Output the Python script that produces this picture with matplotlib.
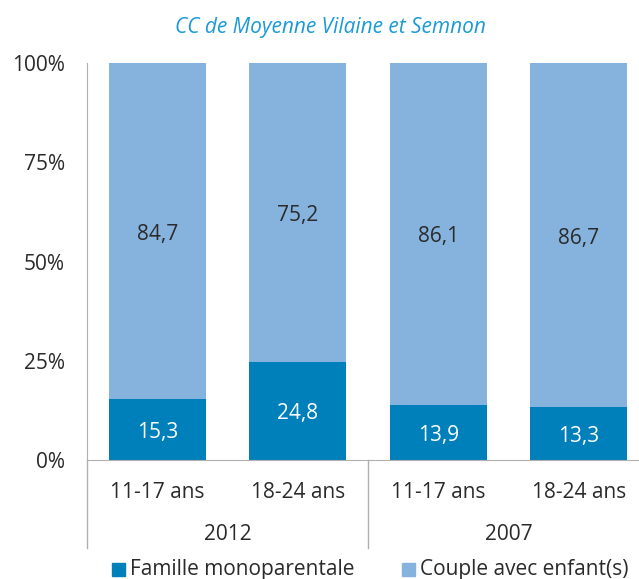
import numpy as np
import matplotlib.pyplot as plt
import matplotlib.transforms as mtransforms
from matplotlib.patches import Rectangle

plt.rcParams['font.family'] = ['Open Sans', 'DejaVu Sans']

# Données
annees = ["2012", "2007"]
ages = ["11-17 ans", "18-24 ans", "11-17 ans", "18-24 ans"]
monoparentale = [15.3, 24.8, 13.9, 13.3]
couple = [84.7, 75.2, 86.1, 86.7]
yticks = [0, 25, 50, 75, 100]

bleu_fonce = "#0080bb"
bleu_clair = "#86b3dd"
gris = "#b0b0b0"
texte = "#2a2a2a"

fig = plt.figure(figsize=(6.39, 5.79), dpi=100)
ax = fig.add_axes([87 / 639, 1 - 460 / 579, 562 / 639, 397 / 579])

x = np.arange(len(ages))
largeur = 0.69
ax.bar(x, monoparentale, largeur, color=bleu_fonce, zorder=2)
ax.bar(x, couple, largeur, bottom=monoparentale, color=bleu_clair, zorder=2)

# étiquettes des valeurs (légèrement abaissées)
decal = mtransforms.offset_copy(ax.transData, fig=fig, x=0, y=-3, units="dots")
for i in range(len(x)):
    ax.text(x[i], monoparentale[i] / 2, f"{monoparentale[i]:.1f}".replace(".", ","),
            ha="center", va="center", color="white", fontsize=15, transform=decal)
    ax.text(x[i], monoparentale[i] + couple[i] / 2, f"{couple[i]:.1f}".replace(".", ","),
            ha="center", va="center", color=texte, fontsize=15, transform=decal)

ax.set_xlim(-0.5, len(x) - 0.5)
ax.set_ylim(0, 100)
ax.set_yticks(yticks)
ax.set_yticklabels([f"{v}%" for v in yticks], fontsize=15, color=texte)
ax.tick_params(axis="y", length=0, pad=16)
ax.set_xticks([])
for s in ["top", "right"]:
    ax.spines[s].set_visible(False)
ax.spines["left"].set_color(gris)
ax.spines["bottom"].set_color(gris)

# axe des catégories à deux niveaux
trans = mtransforms.blended_transform_factory(ax.transData, fig.transFigure)
for i, a in enumerate(ages):
    ax.text(x[i], 1 - 492 / 579, a, transform=trans, ha="center", va="center",
            fontsize=15, color=texte)
for j, an in enumerate(annees):
    ax.text(2 * j + 0.5, 1 - 535 / 579, an, transform=trans, ha="center", va="center",
            fontsize=15, color=texte)
for xs in [-0.5, 1.5]:
    ax.plot([xs, xs], [1 - 460 / 579, 1 - 548 / 579], transform=trans, color=gris,
            lw=1, clip_on=False)

# titre
fig.text(330 / 639, 1 - 28 / 579, "CC de Moyenne Vilaine et Semnon", ha="center", va="center",
         fontsize=15, style="italic", color="#1a9ad6")

# légende
for px, lab, c in [(112, "Famille monoparentale", bleu_fonce), (402, "Couple avec enfant(s)", bleu_clair)]:
    fig.patches.append(Rectangle((px / 639, 1 - 576 / 579), 13 / 639, 13 / 579,
                                 transform=fig.transFigure, color=c))
    fig.text((px + 18) / 639, 1 - 570 / 579, lab, ha="left", va="center", fontsize=15,
             color=texte)

fig.savefig("out.png", dpi=100)
